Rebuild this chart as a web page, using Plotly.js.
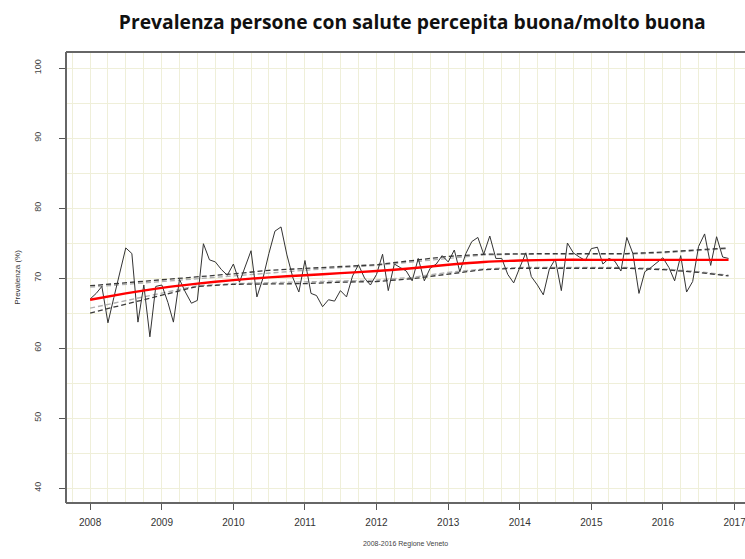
<!DOCTYPE html>
<html>
<head>
<meta charset="utf-8">
<script src="https://cdn.plot.ly/plotly-3.0.1.min.js"></script>
<style>html,body{margin:0;padding:0;background:#fff;}#chart{width:745px;height:559px;}</style>
</head>
<body>
<div id="chart"></div>
<script>
// Monthly prevalence 2008-2016 (%)
const prev2008 = [67.0, 67.8, 68.8, 63.6, 67.2, 70.8, 74.3, 73.5, 63.7, 69.0, 61.6, 68.8];
const prev2009 = [69.0, 66.5, 63.7, 69.8, 68.0, 66.4, 66.8, 74.9, 72.6, 72.3, 71.2, 70.4];
const prev2010 = [72.0, 69.4, 71.5, 73.9, 67.3, 70.0, 73.5, 76.7, 77.3, 73.3, 70.0, 68.0];
const prev2011 = [72.5, 67.8, 67.5, 65.9, 66.9, 66.7, 68.2, 67.3, 70.3, 71.9, 70.0, 69.0];
const prev2012 = [70.5, 73.4, 68.2, 72.0, 71.5, 71.0, 69.6, 72.8, 69.6, 71.4, 72.0, 73.2];
const prev2013 = [72.3, 74.0, 70.9, 73.5, 75.2, 75.8, 73.4, 76.0, 72.8, 72.8, 70.5, 69.3];
const prev2014 = [71.5, 73.6, 70.2, 69.0, 67.6, 71.3, 72.7, 68.2, 75.0, 73.6, 73.0, 72.5];
const prev2015 = [74.2, 74.4, 72.0, 72.8, 72.4, 71.0, 75.8, 73.5, 67.8, 70.9, 71.5, 72.2];
const prev2016 = [72.9, 71.5, 69.6, 73.2, 68.0, 69.5, 74.5, 76.3, 71.8, 75.9, 73.0, 72.8];
const years = [2008, 2009, 2010, 2011, 2012, 2013, 2014, 2015, 2016];
const monthsNum = ["01","02","03","04","05","06","07","08","09","10","11","12"];

// Smoothed trend and bands (knots every half year)
const knotDates = ["2008-01-01","2008-07-01","2009-01-01","2009-07-01","2010-01-01","2010-07-01","2011-01-01","2011-07-01","2012-01-01","2012-07-01","2013-01-01","2013-07-01","2014-01-01","2014-07-01","2015-01-01","2015-07-01","2016-01-01","2016-07-01","2016-12-01"];
const trend     = [66.9, 67.8, 68.6, 69.2, 69.7, 70.1, 70.4, 70.7, 71.0, 71.4, 71.9, 72.3, 72.5, 72.6, 72.6, 72.6, 72.6, 72.6, 72.6];
const upperDark = [68.9, 69.3, 69.7, 70.2, 70.6, 71.1, 71.4, 71.7, 71.9, 72.5, 73.1, 73.4, 73.5, 73.5, 73.5, 73.5, 73.7, 74.0, 74.3];
const lowerDark = [65.0, 66.3, 67.6, 68.8, 69.1, 69.1, 69.2, 69.4, 69.5, 69.9, 70.6, 71.2, 71.4, 71.4, 71.4, 71.4, 71.2, 70.8, 70.3];
const upperGray = [68.7, 69.1, 69.5, 70.0, 70.4, 70.8, 71.2, 71.5, 71.8, 72.3, 72.9, 73.3, 73.4, 73.4, 73.4, 73.4, 73.6, 73.9, 74.2];
const lowerGray = [65.7, 66.8, 67.9, 68.9, 69.2, 69.3, 69.4, 69.6, 69.7, 70.1, 70.8, 71.3, 71.5, 71.5, 71.5, 71.5, 71.3, 70.9, 70.4];

const yTicks = [40, 50, 60, 70, 80, 90, 100];
const xTickYears = [2008, 2009, 2010, 2011, 2012, 2013, 2014, 2015, 2016, 2017];

const allPrev = [].concat(prev2008, prev2009, prev2010, prev2011, prev2012, prev2013, prev2014, prev2015, prev2016);
const dates = [];
years.forEach(y => monthsNum.forEach(m => dates.push(y + "-" + m + "-01")));

const traces = [
  {x: knotDates, y: upperGray, mode: "lines", line: {color: "#b0b0b0", width: 1.4, dash: "5px,3px"}, hoverinfo: "skip"},
  {x: knotDates, y: lowerGray, mode: "lines", line: {color: "#b0b0b0", width: 1.4, dash: "5px,3px"}, hoverinfo: "skip"},
  {x: knotDates, y: upperDark, mode: "lines", line: {color: "#3a3a3a", width: 1.3, dash: "5px,3px"}, hoverinfo: "skip"},
  {x: knotDates, y: lowerDark, mode: "lines", line: {color: "#3a3a3a", width: 1.3, dash: "5px,3px"}, hoverinfo: "skip"},
  {x: dates, y: allPrev, mode: "lines", line: {color: "#333333", width: 1}},
  {x: knotDates, y: trend, mode: "lines", line: {color: "#ff0000", width: 2.4, shape: "spline", smoothing: 0.6}}
];

const layout = {
  width: 745, height: 559,
  margin: {l: 66, r: 0, t: 52, b: 56},
  paper_bgcolor: "#ffffff", plot_bgcolor: "#ffffff",
  showlegend: false,
  title: {
    text: "Prevalenza persone con salute percepita buona/molto buona",
    font: {family: "Open Sans", size: 19.3, color: "#111111", weight: "bold"},
    x: 0.51, xref: "paper", y: 0.96, yref: "container", xanchor: "center", yanchor: "middle"
  },
  xaxis: {
    type: "date",
    range: ["2007-08-31", "2017-02-23"],
    tickvals: xTickYears.map(y => y + "-01-01"),
    ticktext: xTickYears.map(String),
    ticklabeloverflow: "allow",
    ticks: "outside", ticklen: 6, tickwidth: 1, tickcolor: "#555555",
    tickfont: {family: "Liberation Sans", size: 10, color: "#333333"},
    ticklabelstandoff: 4,
    showgrid: true, gridcolor: "#efefd9", gridwidth: 1,
    minor: {dtick: "M3", tick0: "2008-01-01", showgrid: true, gridcolor: "#efefd9", gridwidth: 1, ticks: ""},
    zeroline: false, showline: false,
    title: {text: "2008-2016 Regione Veneto", font: {family: "Liberation Sans", size: 7, color: "#444444"}, standoff: 14}
  },
  yaxis: {
    range: [37.86, 102.29],
    tickvals: yTicks,
    ticktext: yTicks.map(String),
    tickangle: -90,
    ticks: "outside", ticklen: 6, tickwidth: 1, tickcolor: "#555555",
    tickfont: {family: "Liberation Sans", size: 9, color: "#444444"},
    ticklabelstandoff: 14,
    showgrid: true, gridcolor: "#efefd9", gridwidth: 1,
    minor: {dtick: 5, tick0: 0, showgrid: true, gridcolor: "#efefd9", gridwidth: 1, ticks: ""},
    zeroline: false, showline: false,
    title: {text: "Prevalenza (%)", font: {family: "Liberation Sans", size: 8, color: "#333333"}, standoff: 11}
  },
  shapes: [
    {type: "line", xref: "paper", yref: "paper", x0: 0, x1: 0, y0: 0, y1: 1, line: {color: "#666666", width: 2}},
    {type: "line", xref: "paper", yref: "paper", x0: 0, x1: 1.02, y0: 0, y1: 0, line: {color: "#666666", width: 2}},
    {type: "line", xref: "paper", yref: "paper", x0: 0, x1: 1.02, y0: 1, y1: 1, line: {color: "#666666", width: 2}}
  ]
};

Plotly.newPlot("chart", traces, layout, {displayModeBar: false, staticPlot: true});
</script>
</body>
</html>
